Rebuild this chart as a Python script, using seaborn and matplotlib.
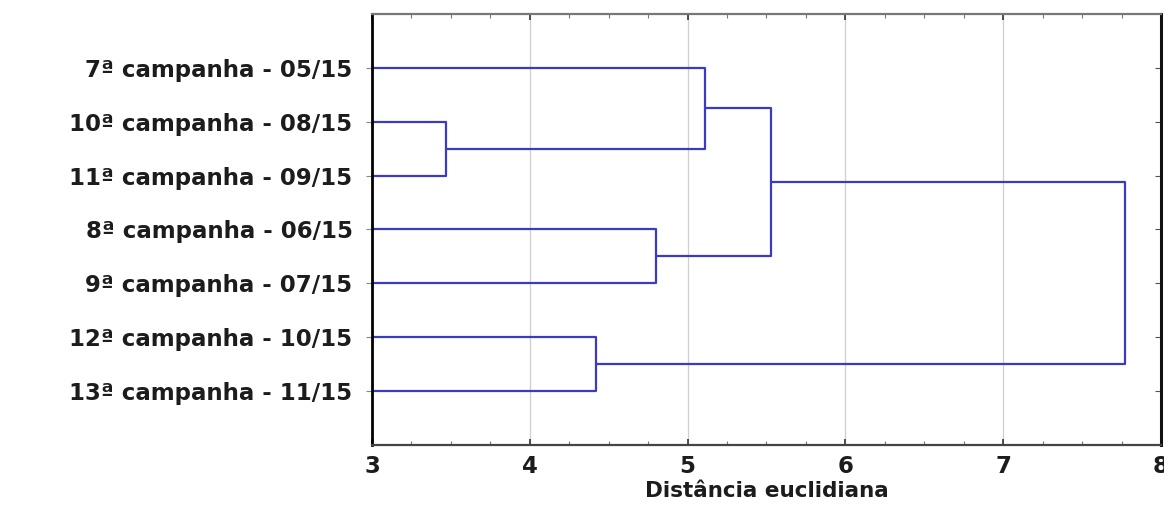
import numpy as np
import pandas as pd
import matplotlib
matplotlib.use("Agg")
import matplotlib.pyplot as plt
import seaborn as sns
from matplotlib.ticker import MultipleLocator

# Leaves, top to bottom
leaf_labels = [
    "7ª campanha - 05/15",
    "10ª campanha - 08/15",
    "11ª campanha - 09/15",
    "8ª campanha - 06/15",
    "9ª campanha - 07/15",
    "12ª campanha - 10/15",
    "13ª campanha - 11/15",
]
# Agglomeration steps: ids 0-6 are leaves, step k creates cluster 7 + k
merge_left = [1, 5, 3, 0, 10, 11]
merge_right = [2, 6, 4, 7, 9, 8]
merge_dist = [3.47, 4.42, 4.80, 5.11, 5.53, 7.77]

x_ticks = [3, 4, 5, 6, 7, 8]
x_label = "Distância euclidiana"

sns.set_theme(style="white")
plt.rcParams["font.family"] = ["DejaVu Sans"]

# Build link paths for the dendrogram
n = len(leaf_labels)
pos = {i: float(i + 1) for i in range(n)}
height = {i: 0.0 for i in range(n)}
rows = []
for k, (a, b, d) in enumerate(zip(merge_left, merge_right, merge_dist)):
    node = n + k
    path = [(height[a], pos[a]), (d, pos[a]), (d, pos[b]), (height[b], pos[b])]
    for j, (xv, yv) in enumerate(path):
        rows.append({"link": k, "step": j, "dist": xv, "pos": yv})
    pos[node] = (pos[a] + pos[b]) / 2
    height[node] = d
links = pd.DataFrame(rows)

fig = plt.figure(figsize=(11.64, 5.05), dpi=100)
ax = fig.add_axes([0.3196, 0.1188, 0.9974 - 0.3196, 0.9723 - 0.1188])

sns.lineplot(data=links, x="dist", y="pos", units="link", estimator=None,
             sort=False, color="#3a3ac4", lw=1.6, ax=ax, legend=False)

ax.set_xlim(3, 8)
ax.set_ylim(8, 0)
ax.set_xticks(x_ticks)
ax.set_xticklabels([str(t) for t in x_ticks])
ax.xaxis.set_minor_locator(MultipleLocator(0.25))
ax.set_yticks(range(1, n + 1))
ax.set_yticklabels(leaf_labels)

ax.grid(axis="x", which="major", color="#cfcfcf", lw=0.9)
ax.grid(axis="y", visible=False)
ax.set_axisbelow(True)

txt = dict(fontsize=16.5, fontweight="bold", color="#1c1c1c")
for lab in ax.get_yticklabels():
    lab.set(**txt)
for lab in ax.get_xticklabels():
    lab.set(**txt)
ax.set_xlabel(x_label, labelpad=2.5, fontsize=15.5, fontweight="bold", color="#1c1c1c")
ax.set_ylabel("")

ax.tick_params(axis="x", which="major", direction="in", top=True, bottom=True,
               length=4, width=1.2, color="#333333", pad=7)
ax.tick_params(axis="x", which="minor", direction="in", top=True, bottom=True,
               length=3, width=0.8, color="#777777")
ax.tick_params(axis="y", which="major", direction="out", left=True, right=False,
               length=4, width=0.8, color="#888888", pad=10)
ax2 = ax.secondary_yaxis("right")
ax2.set_yticks(range(1, n + 1))
ax2.set_yticklabels([])
ax2.tick_params(direction="in", length=4, width=0.8, color="#555555")
ax2.spines["right"].set_visible(False)

for side, (c, w) in {"left": ("#000000", 2.0), "right": ("#111111", 2.2),
                     "top": ("#777777", 1.6), "bottom": ("#444444", 1.6)}.items():
    ax.spines[side].set_visible(True)
    ax.spines[side].set_color(c)
    ax.spines[side].set_linewidth(w)

fig.savefig("out.png", dpi=100)
